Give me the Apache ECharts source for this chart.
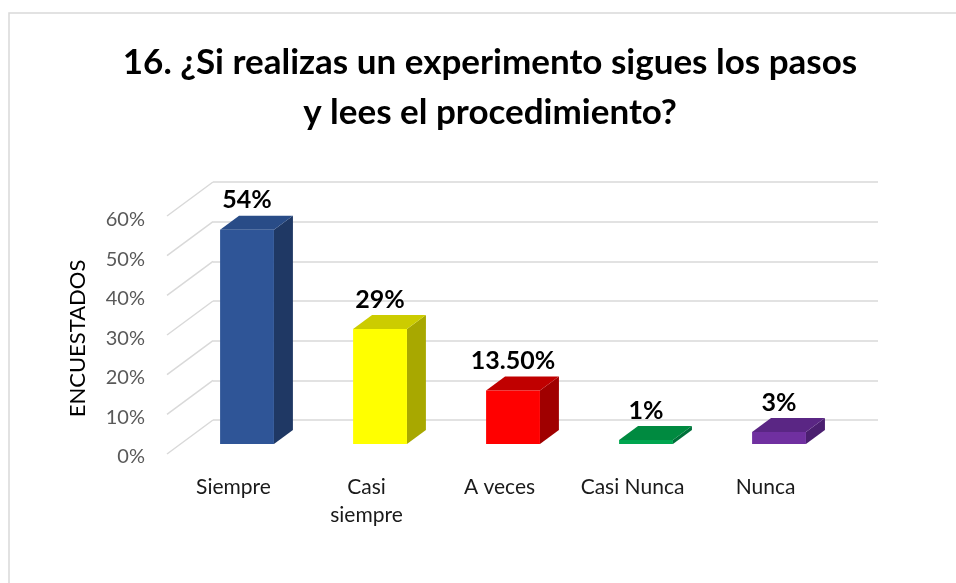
<!DOCTYPE html>
<html>
<head>
<meta charset="utf-8">
<title>16. ¿Si realizas un experimento sigues los pasos y lees el procedimiento?</title>
<script src="https://cdn.jsdelivr.net/npm/echarts@6/dist/echarts.min.js"></script>
<style>
  html, body { margin: 0; padding: 0; background: #fff; }
  #chart { width: 956px; height: 583px; }
</style>
</head>
<body>
<div id="chart"></div>
<script>
// datos de la encuesta
var categorias = ["Siempre", "Casi siempre", "A veces", "Casi Nunca", "Nunca"];
var valores = [0.54, 0.29, 0.135, 0.01, 0.03];
var etiquetas = ["54%", "29%", "13.50%", "1%", "3%"];
var marcas = [0, 0.1, 0.2, 0.3, 0.4, 0.5, 0.6];

// colores de cada barra: frente, lado, arriba
var colores = [
  ["#2F5597", "#1F3864", "#294C87"],
  ["#FFFF00", "#A8A800", "#CCCC00"],
  ["#FF0000", "#A00000", "#C00000"],
  ["#00A650", "#00703A", "#008A40"],
  ["#7030A0", "#4B1F70", "#5A2684"]
];

// profundidad del piso (de la pared del fondo hacia el frente)
var PROF = [-46, 34];
var Z_FRENTE = 0.706, Z_FONDO = 0.294;

var chart = echarts.init(document.getElementById("chart"));
var FUENTE = "Lato, 'Open Sans', sans-serif";

var option = {
  animation: false,
  title: {
    text: "16. ¿Si realizas un experimento sigues los pasos\ny lees el procedimiento?",
    left: 485,
    top: 33,
    textAlign: "center",
    textStyle: { fontFamily: FUENTE, fontSize: 35, fontWeight: "bold", color: "#000", lineHeight: 50 }
  },
  graphic: [{
    type: "rect",
    shape: { x: 9, y: 13, width: 1000, height: 1000 },
    style: { fill: "none", stroke: "#d9d9d9", lineWidth: 1.5 },
    silent: true
  }],
  grid: [
    // pared del fondo
    { left: 213, right: 78, top: 182, bottom: 163 },
    // plano del frente (etiquetas)
    { left: 167, right: 124, top: 220, bottom: 126 }
  ],
  xAxis: [
    { gridIndex: 0, type: "category", data: categorias, show: false },
    {
      gridIndex: 1, type: "category", data: categorias,
      axisLine: { show: false }, axisTick: { show: false },
      axisLabel: {
        margin: 16, fontFamily: FUENTE, fontSize: 21, color: "#1a1a1a", lineHeight: 28,
        interval: 0,
        formatter: function (v) { return v === "Casi siempre" ? "Casi\nsiempre" : v; }
      }
    }
  ],
  yAxis: [
    {
      gridIndex: 0, type: "value", min: 0, max: 0.6, interval: 0.1,
      axisLabel: { show: false }, axisLine: { show: false }, axisTick: { show: false },
      splitLine: { lineStyle: { color: "#d9d9d9", width: 1.5 } }
    },
    {
      gridIndex: 1, type: "value", min: 0, max: 0.6, interval: 0.1,
      axisLine: { show: false }, axisTick: { show: false }, splitLine: { show: false },
      axisLabel: {
        margin: 22, fontFamily: FUENTE, fontSize: 20, color: "#595959",
        formatter: function (v) { return Math.round(v * 100) + "%"; }
      },
      name: "ENCUESTADOS", nameLocation: "middle", nameRotate: 90, nameGap: 78,
      nameTextStyle: { fontFamily: FUENTE, fontSize: 22, color: "#000" }
    }
  ],
  series: [
    {
      // líneas de profundidad del piso
      type: "custom",
      xAxisIndex: 0, yAxisIndex: 0,
      data: marcas.map(function (m) { return [0, m]; }),
      silent: true,
      z: 1,
      renderItem: function (params, api) {
        var x = params.coordSys.x;
        var y = api.coord([0, api.value(1)])[1];
        return {
          type: "line",
          shape: { x1: x, y1: y, x2: x + PROF[0], y2: y + PROF[1] },
          style: { stroke: "#d9d9d9", lineWidth: 1.5 }
        };
      }
    },
    {
      type: "custom",
      xAxisIndex: 0, yAxisIndex: 0,
      data: valores.map(function (v, i) { return [i, v]; }),
      z: 3,
      renderItem: function (params, api) {
        var i = api.value(0);
        var c = api.coord([i, api.value(1)]);
        var b = api.coord([i, 0]);
        var w = api.size([1, 0])[0] * 0.405;
        var fx = PROF[0] * Z_FRENTE, fy = PROF[1] * Z_FRENTE;
        var dx = PROF[0] * Z_FONDO - fx, dy = PROF[1] * Z_FONDO - fy;
        var x0 = c[0] + fx - w / 2, x1 = x0 + w;
        var yT = c[1] + fy, yB = b[1] + fy;
        var col = colores[i];
        return {
          type: "group",
          children: [
            {
              type: "polygon",
              shape: { points: [[x1, yT], [x1 + dx, yT + dy], [x1 + dx, yB + dy], [x1, yB]] },
              style: { fill: col[1] }
            },
            {
              type: "polygon",
              shape: { points: [[x0, yT], [x1, yT], [x1 + dx, yT + dy], [x0 + dx, yT + dy]] },
              style: { fill: col[2] }
            },
            {
              type: "rect",
              shape: { x: x0, y: yT, width: w, height: yB - yT },
              style: { fill: col[0] }
            },
            {
              type: "text",
              x: x0 + w / 2,
              y: yT + dy - 3,
              style: {
                text: etiquetas[i], textAlign: "center", textVerticalAlign: "bottom",
                fontFamily: FUENTE, fontSize: 25, fontWeight: "bold", fill: "#000"
              }
            }
          ]
        };
      }
    }
  ]
};

chart.setOption(option);
</script>
</body>
</html>
